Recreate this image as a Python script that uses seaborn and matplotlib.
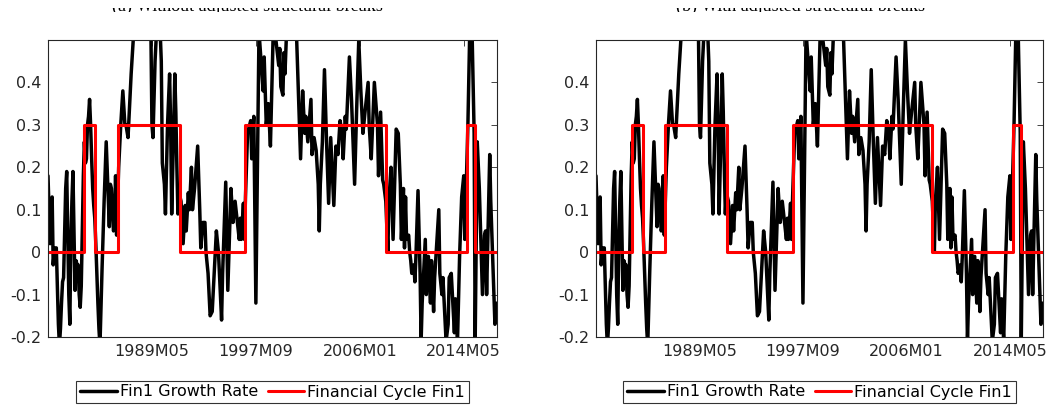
import numpy as np
import pandas as pd
import matplotlib
matplotlib.use("Agg")
import matplotlib.pyplot as plt
import seaborn as sns
from matplotlib.ticker import FixedLocator, FuncFormatter
from matplotlib.transforms import Bbox

# ---------------- data ----------------
# month offsets counted from 1981M01
growth_months = [0, 1, 2, 3, 4, 5, 6, 7, 8, 9, 10, 11, 12, 13, 14, 15, 16, 17, 18, 19,
                 20, 21, 22, 23, 24, 25, 26, 27, 28, 29, 30, 31, 32, 33, 34, 35, 36, 37, 38, 39,
                 40, 41, 42, 43, 44, 45, 46, 47, 48, 49, 50, 52, 54, 56, 58, 59, 60, 61, 62, 63,
                 64, 65, 66, 68, 70, 72, 74, 75, 77, 79, 80, 82, 85, 90, 95, 99, 100, 101, 103, 105,
                 107, 109, 110, 112, 113, 115, 117, 118, 119, 121, 122, 123, 124, 125, 126, 128, 130, 132, 133, 135,
                 136, 138, 139, 141, 144, 146, 147, 149, 151, 152, 154, 156, 158, 162, 164, 167, 168, 171, 173, 176,
                 178, 180, 184, 185, 186, 188, 189, 190, 192, 195, 196, 198, 200, 203, 205, 207, 208, 210, 212, 214,
                 217, 222, 223, 224, 226, 227, 228, 230, 233, 236, 239, 243, 245, 247, 248, 250, 253, 254, 256, 258,
                 260, 261, 262, 264, 266, 268, 270, 272, 275, 277, 279, 281, 283, 284, 286, 287, 290, 292, 295, 297,
                 299, 301, 303, 305, 308, 309, 311, 314, 317, 318, 320, 322, 323, 325, 327, 328, 330, 332, 335, 337,
                 339, 340, 342, 343, 344, 345, 347, 348, 349, 350, 352, 353, 354, 356, 358, 359, 360, 363, 364, 366,
                 368, 369, 371, 372, 376, 377, 379, 380, 383, 385, 386, 388, 391, 392, 394, 396, 398, 400, 401, 404,
                 406, 408, 410, 411, 412, 413, 415, 418, 420, 421, 422, 425, 426, 429, 430, 432]
growth_values = [0.18, 0.10, 0.02, 0.08, 0.13, -0.03, 0.00, 0.01, 0.01, -0.08, -0.17, -0.22, -0.18, -0.12, -0.07, -0.06, 0.05, 0.15, 0.19, 0.05,
                 -0.10, -0.17, 0.02, 0.12, 0.19, 0.05, -0.09, -0.02, -0.03, -0.03, -0.10, -0.13, -0.08, 0.05, 0.18, 0.26, 0.21, 0.22, 0.30, 0.32,
                 0.36, 0.30, 0.22, 0.15, 0.11, 0.08, 0.02, -0.05, -0.12, -0.18, -0.22, -0.04, 0.12, 0.26, 0.13, 0.06, 0.16, 0.15, 0.10, 0.05,
                 0.06, 0.18, 0.04, 0.20, 0.30, 0.38, 0.30, 0.30, 0.27, 0.37, 0.42, 0.50, 0.60, 0.68, 0.62, 0.52, 0.30, 0.27, 0.45, 0.55,
                 0.58, 0.45, 0.21, 0.16, 0.09, 0.30, 0.42, 0.30, 0.09, 0.30, 0.42, 0.33, 0.20, 0.09, 0.14, 0.12, 0.02, 0.11, 0.05, 0.14,
                 0.10, 0.20, 0.10, 0.15, 0.25, 0.10, 0.01, 0.07, 0.07, 0.00, -0.05, -0.15, -0.14, 0.05, 0.00, -0.16, -0.05, 0.165, -0.09, 0.15,
                 0.07, 0.12, 0.03, 0.08, 0.03, 0.115, 0.03, 0.13, 0.28, 0.31, 0.22, 0.32, -0.12, 0.52, 0.45, 0.38, 0.46, 0.30, 0.35, 0.25,
                 0.55, 0.44, 0.48, 0.39, 0.37, 0.47, 0.42, 0.55, 0.60, 0.58, 0.52, 0.22, 0.38, 0.28, 0.32, 0.26, 0.36, 0.23, 0.27, 0.24,
                 0.16, 0.05, 0.16, 0.26, 0.43, 0.26, 0.115, 0.27, 0.11, 0.25, 0.23, 0.31, 0.28, 0.22, 0.32, 0.29, 0.46, 0.36, 0.16, 0.34,
                 0.50, 0.38, 0.28, 0.33, 0.40, 0.30, 0.22, 0.40, 0.30, 0.18, 0.33, 0.17, 0.16, 0.12, 0.00, 0.12, 0.20, 0.03, 0.29, 0.28,
                 0.16, 0.03, 0.15, 0.01, 0.13, 0.03, 0.04, 0.00, -0.02, -0.05, -0.03, -0.07, -0.01, 0.145, -0.05, -0.21, -0.12, 0.03, -0.10, -0.01,
                 -0.12, -0.02, -0.14, -0.06, 0.10, -0.05, -0.10, -0.06, -0.21, -0.17, -0.06, -0.05, -0.19, -0.11, -0.21, -0.01, 0.13, 0.18, 0.03, 0.30,
                 0.55, 0.52, 0.28, -0.21, 0.03, 0.26, 0.15, -0.10, 0.04, 0.05, -0.10, 0.23, 0.12, -0.10, -0.17, -0.12]

# financial cycle regimes (month offset where each regime starts), value of regime
cycle_months = [0, 35, 45, 67, 127, 190, 325, 403, 411, 432]
cycle_values = [0.0, 0.3, 0.0, 0.3, 0.0, 0.3, 0.0, 0.3, 0.0, 0.0]

tick_months = [100, 200, 300, 400]
tick_labels = ["1989M05", "1997M09", "2006M01", "2014M05"]
y_ticks = [-0.2, -0.1, 0.0, 0.1, 0.2, 0.3, 0.4]

panel_titles = ["(a) Without adjusted structural breaks", "(b) With adjusted structural breaks"]
series_labels = ["Fin1 Growth Rate", "Financial Cycle Fin1"]

# ---------------- plot ----------------
sns.set_style("white")
plt.rcParams["font.family"] = ["DejaVu Sans"]

W, H = 1052, 408
fig = plt.figure(figsize=(W / 100, H / 100), dpi=100)

axes_px = [(48, 497), (596, 1043)]
top_px, bot_px = 40, 337
title_x = [112, 676]

grey = "#262626"

def fmt(v, pos):
    if abs(v) < 1e-9:
        return "0"
    return f"{v:.1f}"

growth_df = pd.DataFrame({"month": growth_months, "value": growth_values})
cycle_df = pd.DataFrame({"month": cycle_months, "value": cycle_values})

for i, (l, r) in enumerate(axes_px):
    ax = fig.add_axes([l / W, (H - bot_px) / H, (r - l) / W, (bot_px - top_px) / H])
    sns.lineplot(data=growth_df, x="month", y="value", ax=ax, color="black",
                 linewidth=2.5, label=series_labels[0], sort=False)
    sns.lineplot(data=cycle_df, x="month", y="value", ax=ax, color="#ff0000",
                 linewidth=2.2, drawstyle="steps-post", label=series_labels[1], sort=False)
    ax.set_xlim(0, 432)
    ax.set_ylim(-0.2, 0.5)
    ax.xaxis.set_major_locator(FixedLocator(tick_months))
    ax.set_xticklabels(tick_labels)
    ax.yaxis.set_major_locator(FixedLocator(y_ticks))
    ax.yaxis.set_major_formatter(FuncFormatter(fmt))
    ax.set_xlabel("")
    ax.set_ylabel("")
    ax.tick_params(axis="both", direction="in", length=4, width=0.6, color=grey,
                   labelsize=11.5, labelcolor=grey, top=True, right=True, pad=5)
    for s in ax.spines.values():
        s.set_visible(True)
        s.set_color(grey)
        s.set_linewidth(0.8)
    leg = ax.legend(loc="center", bbox_to_anchor=(((l + r) / 2) / W, 1 - 392 / H),
                    bbox_transform=fig.transFigure, ncol=2, frameon=True, fancybox=False,
                    fontsize=11.5, handlelength=2.3, handletextpad=0.2, columnspacing=0.6,
                    borderpad=0.25, borderaxespad=0.0)
    leg.get_frame().set_edgecolor("black")
    leg.get_frame().set_linewidth(0.8)
    for t in leg.get_texts():
        t.set_color("black")
    # title: in the reference only the very bottom sliver of the title survives the crop
    t = fig.text(title_x[i] / W, 1 - 10.5 / H, panel_titles[i], ha="left", va="baseline",
                 fontsize=13, family="Liberation Serif", color="black")
    t.set_clip_box(Bbox.from_extents(0, H - 11.5, W, H - 8.0))
    t.set_clip_on(True)

fig.savefig("out.png", dpi=100)
